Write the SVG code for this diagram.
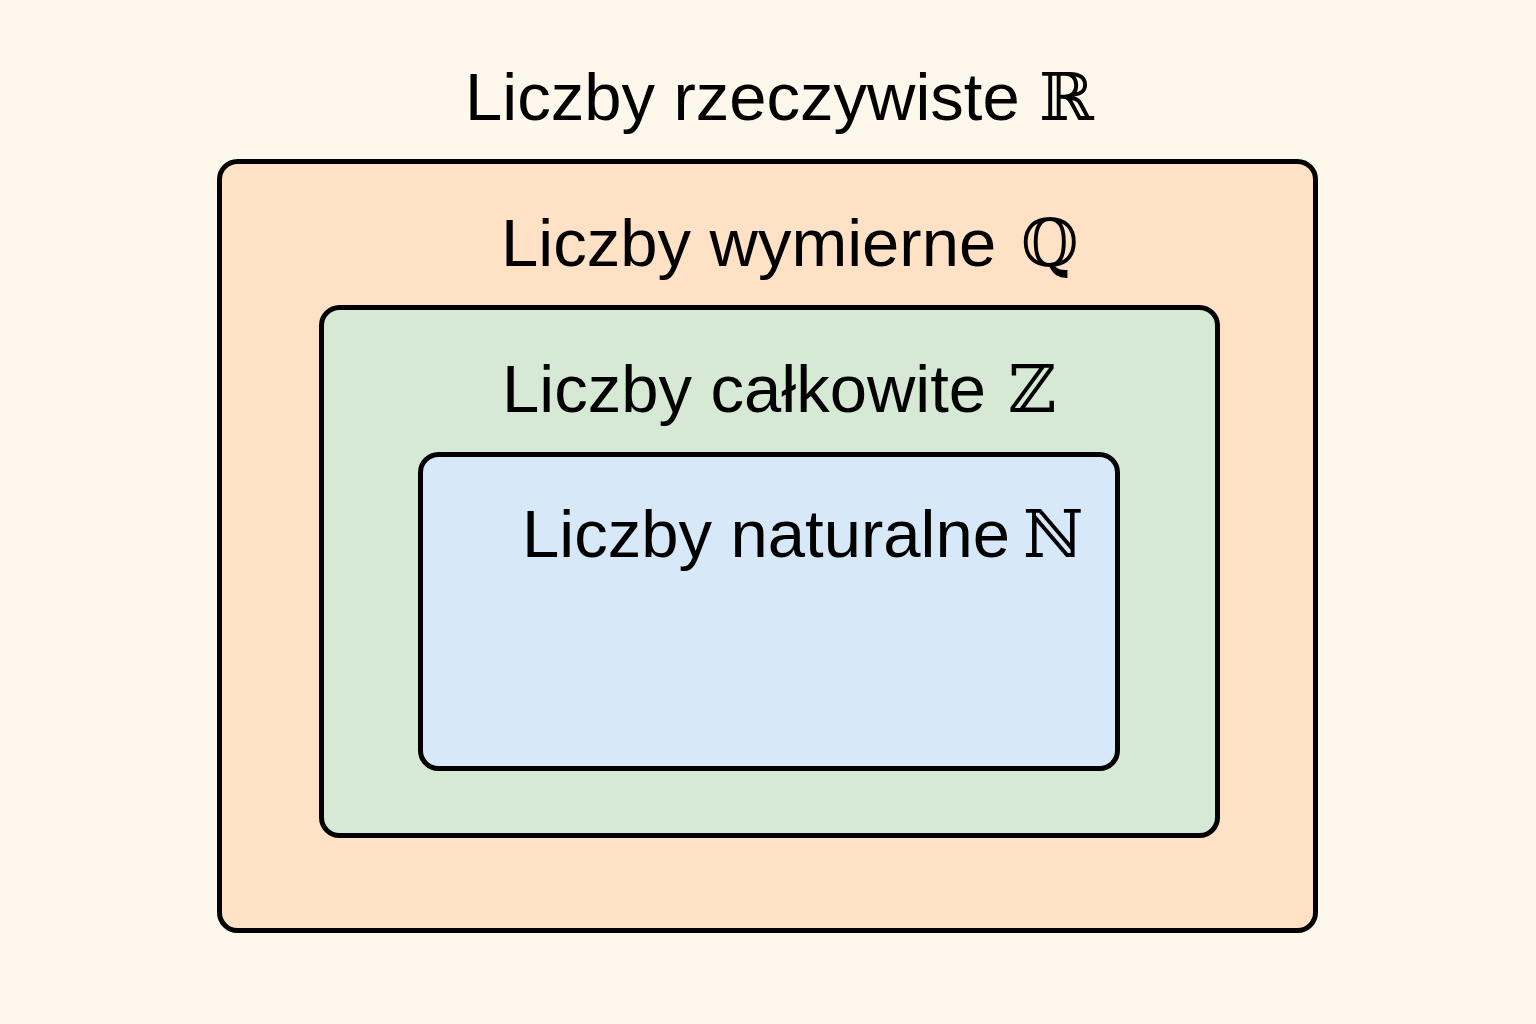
<svg xmlns="http://www.w3.org/2000/svg" width="1536" height="1024" viewBox="0 0 1536 1024">
<style>
.box{stroke:#000;stroke-width:5}
.lbl{font-family:"Liberation Sans","DejaVu Sans",sans-serif;font-size:67px;fill:#000}
.sym{font-family:"DejaVu Serif","DejaVu Sans",serif;font-size:66px}
</style>
<rect width="1536" height="1024" fill="#FDF7EC"/>
<g id="real">
<text class="lbl" x="465" y="120">Liczby rzeczywiste <tspan class="sym" x="1039">ℝ</tspan></text>
</g>
<g id="rational">
<rect class="box" x="219.5" y="161.5" width="1096" height="769" rx="18" fill="#FFE2C5"/>
<text class="lbl" x="501" y="266">Liczby wymierne <tspan class="sym" x="1021">ℚ</tspan></text>
</g>
<g id="integer">
<rect class="box" x="321.5" y="307.5" width="896" height="528" rx="18" fill="#D5E9D5"/>
<text class="lbl" x="502" y="412">Liczby całkowite <tspan class="sym" x="1008">ℤ</tspan></text>
</g>
<g id="natural">
<rect class="box" x="420.5" y="454.5" width="697" height="314" rx="18" fill="#D7E8F8"/>
<text class="lbl" x="522" y="557">Liczby naturalne <tspan class="sym" x="1023">ℕ</tspan></text>
</g>
<g id="connectors"/>
</svg>
